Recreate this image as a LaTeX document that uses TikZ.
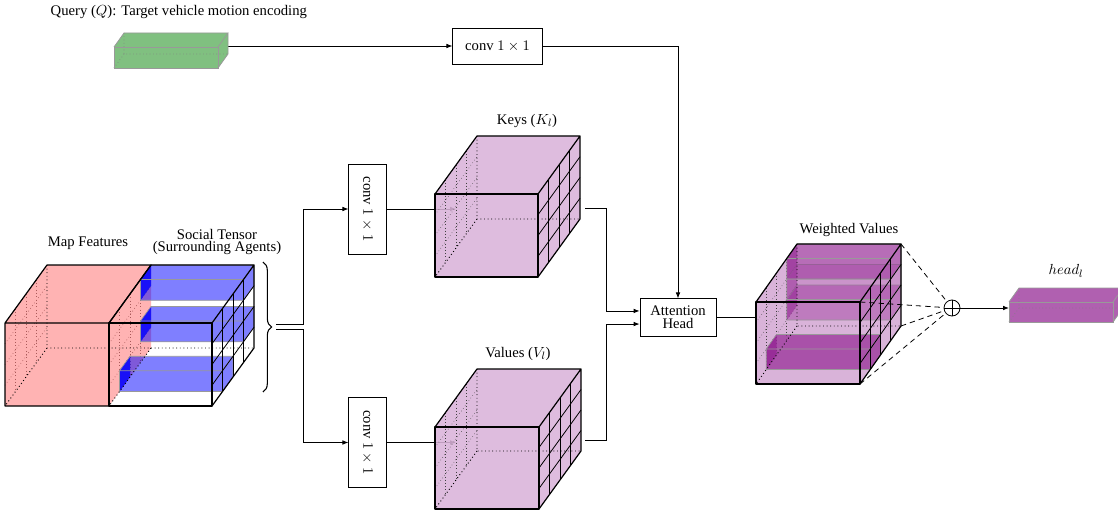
\documentclass[tikz,border=0pt]{standalone}
\usepackage{fontspec}
\setmainfont{Liberation Serif}
\usepackage{graphicx}
\usetikzlibrary{calc,arrows.meta,decorations.pathreplacing}
\definecolor{pinkf}{RGB}{255,179,179}
\definecolor{lilac}{RGB}{217,179,217}
\definecolor{qgreen}{RGB}{128,192,128}
\definecolor{hpurple}{RGB}{176,96,176}
\definecolor{wpurple}{RGB}{150,40,150}
\definecolor{sblue}{RGB}{0,0,255}
\definecolor{mdot}{RGB}{170,90,90}

% name x y w h dx dy : front top-left (x,y), width, height, depth offset
\newcommand{\defcube}[7]{%
 \coordinate (#1F1) at (#2,#3);
 \coordinate (#1F2) at ({#2+#4},#3);
 \coordinate (#1F3) at ({#2+#4},{#3+#5});
 \coordinate (#1F4) at (#2,{#3+#5});
 \coordinate (#1B1) at ({#2+#6},{#3+#7});
 \coordinate (#1B2) at ({#2+#4+#6},{#3+#7});
 \coordinate (#1B3) at ({#2+#4+#6},{#3+#5+#7});
 \coordinate (#1B4) at ({#2+#6},{#3+#5+#7});
}
\newcommand{\cubefill}[2]{%
 \fill[#2] (#1F1)--(#1B1)--(#1B2)--(#1B3)--(#1F3)--(#1F4)--cycle;}
\newcommand{\lefthidden}[2]{%
 \foreach \gs in {0.25,0.5,0.75} {
   \draw[#2] ($(#1F1)!\gs!(#1B1)$) -- ($(#1F4)!\gs!(#1B4)$);
   \draw[#2] ($(#1F1)!\gs!(#1F4)$) -- ($(#1B1)!\gs!(#1B4)$);
 }}
\newcommand{\rightgrid}[2]{%
 \foreach \gs in {0.25,0.5,0.75} {
   \draw[#2] ($(#1F2)!\gs!(#1B2)$) -- ($(#1F3)!\gs!(#1B3)$);
   \draw[#2] ($(#1F2)!\gs!(#1F3)$) -- ($(#1B2)!\gs!(#1B3)$);
 }}
\newcommand{\backedges}[2]{%
 \draw[#2] (#1B1)--(#1B4)--(#1B3) (#1B4)--(#1F4);}
\newcommand{\cubeedges}[2]{%
 \draw[#2] (#1F1)--(#1F2)--(#1F3)--(#1F4)--cycle;
 \draw[#2] (#1F1)--(#1B1)--(#1B2)--(#1F2) (#1B2)--(#1B3)--(#1F3);}
% x y w h dx dy colour opacity leftopacity
\newcommand{\cellbar}[9]{%
 \defcube{bb}{#1}{#2}{#3}{#4}{#5}{#6}
 \fill[#7, fill opacity=#9] (bbF1)--(bbB1)--(bbB4)--(bbF4)--cycle;
 \fill[#7, fill opacity=#8] (bbF1)--(bbB1)--(bbB2)--(bbB3)--(bbF3)--(bbF4)--cycle;
 \draw[baredge] (bbF1)--(bbF2)--(bbF3)--(bbF4)--cycle (bbF1)--(bbB1)--(bbB2)--(bbF2) (bbB2)--(bbB3)--(bbF3);}

\begin{document}
\begin{tikzpicture}[x=0.75pt,y=-0.75pt, font=\fontsize{11}{13}\selectfont,
  cedge/.style={line width=0.9pt, line join=round},
  gridl/.style={line width=0.6pt},
  hid/.style={dotted, line width=0.7pt},
  hgrid/.style={dotted, line width=0.4pt, black!75},
  mgrid/.style={dotted, line width=0.5pt, mdot},
  conn/.style={line width=0.6pt, -{Latex[length=4.5pt,width=3.5pt]}},
  plainc/.style={line width=0.6pt},
  cbox/.style={draw, line width=0.6pt, inner sep=2pt},
  baredge/.style={draw=black!40, line width=0.5pt}]
\useasboundingbox (0,0) rectangle (1118,510);

% ---------- boxes ----------
\node[cbox, minimum width=67pt, minimum height=27pt] (convq) at (497.5,46) {conv $1\times 1$};
\node[cbox, minimum width=28pt, minimum height=67.5pt] (convk) at (367.5,209) {\rotatebox{-90}{conv $1\times 1$}};
\node[cbox, minimum width=28pt, minimum height=67.5pt] (convv) at (367.5,442.5) {\rotatebox{-90}{conv $1\times 1$}};
\node[cbox, minimum width=57pt, minimum height=28pt, align=center, font=\fontsize{11}{9.5}\selectfont] (att) at (678,317.5) {Attention\\Head};
\node[circle, draw, line width=0.6pt, minimum size=12pt, inner sep=0pt] (op) at (952,308) {};
\draw[line width=0.6pt] (op.north) -- (op.south) (op.west) -- (op.east);

% ---------- cube geometry ----------
\defcube{q}{114}{47}{104}{21}{10}{-14}
\defcube{h}{1009}{302}{104}{20}{10}{-14}
\defcube{k}{435}{194}{103}{83}{42}{-58}
\defcube{v}{435}{427}{104}{82}{42}{-58}
\defcube{w}{756}{302}{104}{82}{41}{-58}
\defcube{m}{5}{323}{104}{83}{42}{-58}
\defcube{s}{109}{323}{103}{83}{42}{-58}

% ---------- connectors ----------
\coordinate (qout) at (228,46);
\draw[conn] (qout) -- (convq.west);
\draw[conn] (convq.east) -| (att.north);
\coordinate (brtop) at (263,262);
\coordinate (brbot) at (263,392);
\draw[decorate, decoration={brace, amplitude=6.5pt}, line width=0.8pt] (brtop) -- (brbot);
\coordinate (s1) at (276,324);
\coordinate (s2) at (276,329);
\draw[conn] (s1) -- ++(27,0) |- (convk.west);
\draw[conn] (s2) -- ++(27,0) |- (convv.west);
\coordinate (kin) at (456,209);
\coordinate (vin) at (456,442.5);
\coordinate (win) at (776,317.5);
\draw[conn] (convk.east) -- (kin);
\draw[conn] (convv.east) -- (vin);
\draw[conn] (att.east) -- (win);
\coordinate (kout) at (585,208);
\coordinate (vout) at (585,440);
\draw[conn] (kout) -- ++(21,0) |- ([yshift=4.9pt]att.west);
\draw[conn] (vout) -- ++(21,0) |- ([yshift=-4.9pt]att.west);
\draw[conn] (op.east) -- (op -| hF1);

% ---------- query box ----------
\cubefill{q}{qgreen}
\backedges{q}{dotted, gray, line width=0.5pt}
\cubeedges{q}{gray!80, line width=0.6pt}

% ---------- head box ----------
\cubefill{h}{hpurple}
\backedges{h}{dotted, gray, line width=0.5pt}
\cubeedges{h}{gray!80, line width=0.6pt}

% ---------- keys & values ----------
\foreach \cb in {k,v} {
  \cubefill{\cb}{lilac, fill opacity=0.88}
  \lefthidden{\cb}{hgrid}
  \backedges{\cb}{hid}
  \rightgrid{\cb}{gridl}
  \cubeedges{\cb}{cedge}
}

% ---------- map features + social tensor ----------
\cubefill{m}{pinkf}
\lefthidden{m}{mgrid}
\rightgrid{m}{mgrid}
\cellbar{140.5}{321}{103}{20.75}{10.5}{-14.5}{sblue}{0.5}{0.8}
\cellbar{140.5}{279.5}{103}{20.75}{10.5}{-14.5}{sblue}{0.5}{0.8}
\cellbar{119.5}{370.75}{103}{20.75}{10.5}{-14.5}{sblue}{0.5}{0.8}
\backedges{m}{hid}
\draw[hid] (sB4) -- (sB3) (sB4) -- (sF4);
\rightgrid{s}{gridl}
\draw[cedge] (mF1)--(mF2)--(mF3)--(mF4)--cycle (mF1)--(mB1)--(mB2)--(mF2);
\cubeedges{s}{cedge}

% ---------- weighted values ----------
\cubefill{w}{lilac}
\lefthidden{w}{hgrid}
\cellbar{786.75}{299.5}{104}{20.5}{10.25}{-14.5}{wpurple}{0.4}{0.6}
\cellbar{786.75}{279}{104}{20.5}{10.25}{-14.5}{wpurple}{0.22}{0.5}
\cellbar{786.75}{258.5}{104}{20.5}{10.25}{-14.5}{wpurple}{0.5}{0.6}
\cellbar{766.25}{349}{104}{20.5}{10.25}{-14.5}{wpurple}{0.7}{0.85}
\backedges{w}{hid}
\rightgrid{w}{gridl}
\cubeedges{w}{cedge}
\draw[dashed, line width=0.6pt, dash pattern=on 4pt off 3pt] (wB2) -- (op) (wF2) -- (op) (wB3) -- (op) (wF3) -- (op);

% ---------- labels ----------
\node[anchor=west] (qlab) at (46,12) {Query ($Q$): Target vehicle motion encoding};
\node (klab) at (527,121) {Keys ($K_l$)};
\node (vlab) at (518,354) {Values ($V_l$)};
\node (wlab) at (849,230) {Weighted Values};
\node (mlab) at (88,243) {Map Features};
\node[align=center, font=\fontsize{11}{9.5}\selectfont] (slab) at (217,242) {Social Tensor\\(Surrounding Agents)};
\node (hlab) at (1066,271) {$head_l$};
\end{tikzpicture}
\end{document}
